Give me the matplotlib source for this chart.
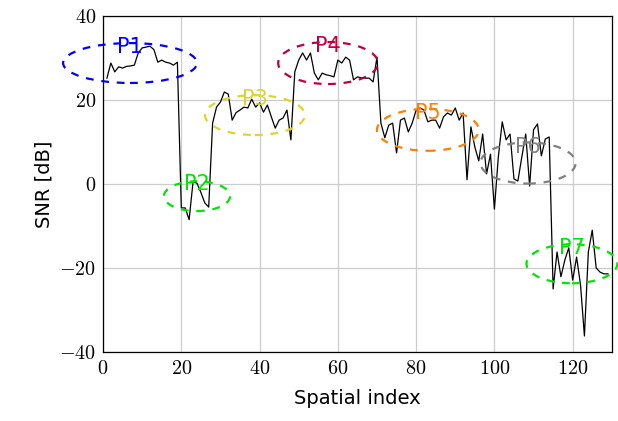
import matplotlib

matplotlib.use("Agg")
import matplotlib.pyplot as plt
from matplotlib.patches import Ellipse
import numpy as np

plt.rcParams["mathtext.fontset"] = "cm"

# SNR per spatial index
snr = [
    25.2, 28.8, 26.7, 27.9, 27.6, 28.0, 28.1, 28.3, 31.2, 32.4,
    32.6, 32.8, 32.0, 29.0, 29.5, 29.0, 28.8, 28.3, 29.0, -5.7,
    -5.7, -8.5, 0.5, 0.2, -2.0, -4.5, -5.5, 14.5, 18.3, 19.5,
    21.9, 21.4, 15.2, 17.0, 17.6, 18.3, 18.1, 20.2, 18.3, 19.3,
    17.1, 18.8, 16.0, 13.3, 15.2, 15.7, 17.6, 10.5, 26.7, 29.5,
    31.2, 29.5, 31.2, 26.4, 24.8, 26.4, 26.0, 25.8, 25.5, 29.5,
    28.8, 30.2, 29.5, 24.8, 25.5, 25.3, 25.2, 25.2, 24.3, 30.2,
    14.5, 11.0, 14.0, 14.5, 7.4, 15.2, 15.7, 12.4, 14.5, 17.6,
    18.1, 17.6, 14.8, 15.2, 15.2, 13.3, 16.0, 16.9, 16.4, 18.1,
    15.2, 16.9, 1.0, 13.6, 8.8, 5.5, 11.9, 2.4, 7.1, -6.0,
    6.4, 14.8, 10.5, 11.9, 1.2, 0.7, 6.4, 11.9, -0.5, 12.9,
    14.3, 6.7, 10.7, 11.2, -25.0, -16.2, -22.1, -18.1, -15.2, -22.9,
    -17.4, -24.0, -36.2, -16.2, -11.0, -20.0, -21.0, -21.4, -21.4,
]
idx = np.arange(1, len(snr) + 1)

# region markers: label, centre x, centre y, width, height, colour
regions = ["P1", "P2", "P3", "P4", "P5", "P6", "P7"]
reg_x = [6.9, 24.0, 38.8, 57.5, 83.0, 108.6, 119.8]
reg_y = [28.8, -2.9, 16.4, 28.8, 12.9, 5.0, -19.0]
reg_w = [34.2, 16.9, 25.5, 25.5, 26.0, 24.3, 23.2]
reg_h = [9.5, 7.1, 9.5, 10.0, 10.0, 9.8, 9.3]
reg_col = ["#0000ff", "#00e600", "#dcd62c", "#bf0040", "#ff8000", "#808080", "#00e600"]

fig = plt.figure(figsize=(6.18, 4.21), dpi=100)
ax = fig.add_axes([0.1667, 0.164, 0.8233, 0.798])

ax.plot(idx, snr, color="black", lw=0.9, zorder=3)

for lab, cx, cy, w, h, col in zip(regions, reg_x, reg_y, reg_w, reg_h, reg_col):
    ax.add_patch(Ellipse((cx, cy), w, h, fill=False, ec=col, lw=1.6,
                         ls=(0, (3.5, 3.5)), clip_on=False, zorder=4))
    ax.text(cx, cy + h * 0.4, lab, color=col, fontsize=15, ha="center",
            va="center", family="DejaVu Sans", zorder=5)

ax.set_xlim(0, 130)
ax.set_ylim(-40, 40)
ax.set_xticks([0, 20, 40, 60, 80, 100, 120])
ax.set_yticks([-40, -20, 0, 20, 40])
ax.set_xticklabels([f"${v}$" for v in [0, 20, 40, 60, 80, 100, 120]])
ax.set_yticklabels([f"${v}$" for v in [-40, -20, 0, 20, 40]])
ax.tick_params(labelsize=14.5, direction="in", length=0, pad=5)
ax.grid(True, color="#cccccc", lw=0.9)
ax.set_axisbelow(True)
for s in ax.spines.values():
    s.set_linewidth(0.9)

ax.set_xlabel("Spatial index", fontsize=14, family="DejaVu Sans", labelpad=8)
ax.set_ylabel("SNR [dB]", fontsize=14, family="DejaVu Sans", labelpad=4)

fig.savefig("out.png", dpi=100)
